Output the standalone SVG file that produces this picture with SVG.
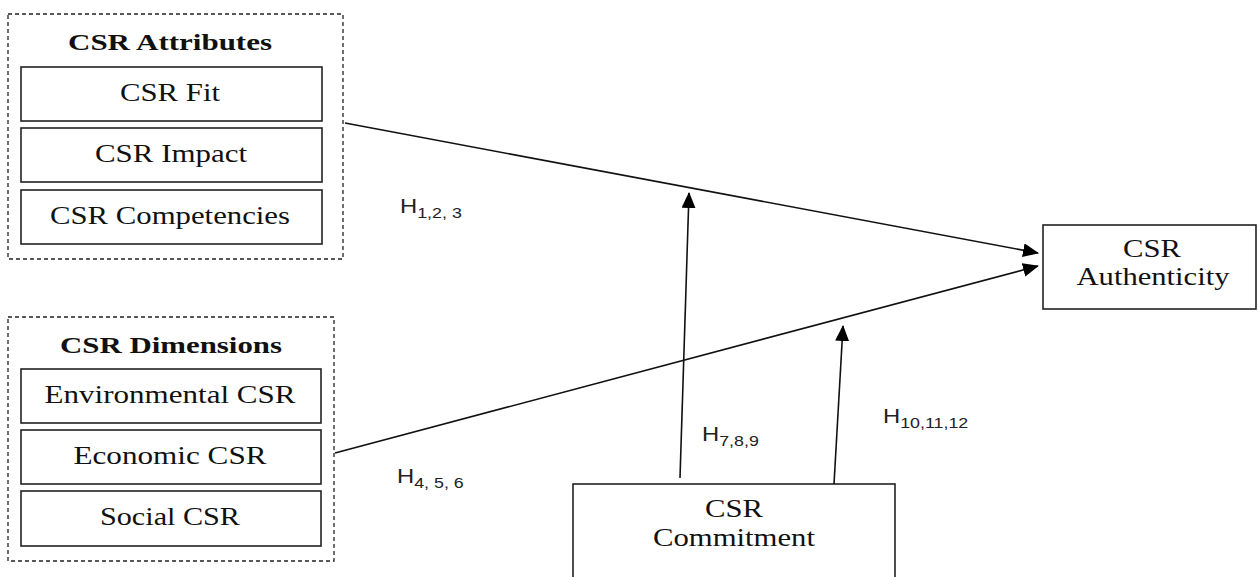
<svg xmlns="http://www.w3.org/2000/svg" width="1259" height="577" viewBox="0 0 1259 577">
<style>
.dash{fill:none;stroke:#222;stroke-width:1.3;stroke-dasharray:4,3}
.box{fill:#fff;stroke:#222;stroke-width:1.6}
.t{font-family:"Liberation Serif","Times New Roman",serif;font-size:25.5px;fill:#111;text-anchor:middle}
.tb{font-family:"Liberation Serif","Times New Roman",serif;font-size:23.5px;font-weight:bold;fill:#111;text-anchor:middle}
.h{font-family:"Liberation Sans",Arial,sans-serif;font-size:20px;fill:#222}
.s{font-size:15px}
.ln{stroke:#111;stroke-width:1.6;fill:none}
</style>
<defs>
<marker id="arrL" markerWidth="16" markerHeight="14" refX="15" refY="7" orient="auto" markerUnits="userSpaceOnUse" viewBox="0 0 16 14">
<path d="M0,0 L16,7 L0,14 z" fill="#000"/>
</marker>
</defs>
<g id="attributes">
<rect class="dash" x="8" y="14" width="335" height="245"/>
<text class="tb" x="170" y="50" textLength="204" lengthAdjust="spacingAndGlyphs">CSR Attributes</text>
<rect class="box" x="21" y="67" width="301" height="54"/>
<text class="t" x="170" y="101" textLength="100" lengthAdjust="spacingAndGlyphs">CSR Fit</text>
<rect class="box" x="21" y="128" width="301" height="54"/>
<text class="t" x="171" y="162" textLength="152" lengthAdjust="spacingAndGlyphs">CSR Impact</text>
<rect class="box" x="21" y="190" width="301" height="54"/>
<text class="t" x="170" y="224" textLength="240" lengthAdjust="spacingAndGlyphs">CSR Competencies</text>
</g>
<g id="dimensions">
<rect class="dash" x="8" y="317" width="326" height="244"/>
<text class="tb" x="171" y="353" textLength="222" lengthAdjust="spacingAndGlyphs">CSR Dimensions</text>
<rect class="box" x="21" y="369" width="300" height="54"/>
<text class="t" x="170" y="403" textLength="251" lengthAdjust="spacingAndGlyphs">Environmental CSR</text>
<rect class="box" x="21" y="430" width="300" height="54"/>
<text class="t" x="170" y="464" textLength="193" lengthAdjust="spacingAndGlyphs">Economic CSR</text>
<rect class="box" x="21" y="491" width="300" height="55"/>
<text class="t" x="170" y="525" textLength="140" lengthAdjust="spacingAndGlyphs">Social CSR</text>
</g>
<g id="authenticity">
<rect class="box" x="1043" y="225" width="213" height="84"/>
<text class="t" x="1152" y="257" textLength="58" lengthAdjust="spacingAndGlyphs">CSR</text>
<text class="t" x="1153" y="285" textLength="153" lengthAdjust="spacingAndGlyphs">Authenticity</text>
</g>
<g id="commitment">
<rect class="box" x="573" y="484" width="322" height="100"/>
<text class="t" x="734" y="517" textLength="58" lengthAdjust="spacingAndGlyphs">CSR</text>
<text class="t" x="734" y="546" textLength="162" lengthAdjust="spacingAndGlyphs">Commitment</text>
</g>
<g id="connectors">
<line class="ln" x1="345" y1="123" x2="1038" y2="253" marker-end="url(#arrL)"/>
<line class="ln" x1="335" y1="453" x2="1038" y2="266" marker-end="url(#arrL)"/>
<line class="ln" x1="680" y1="478" x2="689" y2="193" marker-end="url(#arrL)"/>
<line class="ln" x1="834" y1="484" x2="843" y2="326" marker-end="url(#arrL)"/>
</g>
<g id="labels">
<text class="h" transform="translate(400,213) scale(1.19,1)">H<tspan class="s" dy="5">1,2, 3</tspan></text>
<text class="h" transform="translate(397,483) scale(1.19,1)">H<tspan class="s" dy="5">4, 5, 6</tspan></text>
<text class="h" transform="translate(702,441) scale(1.19,1)">H<tspan class="s" dy="5">7,8,9</tspan></text>
<text class="h" transform="translate(883,423) scale(1.19,1)">H<tspan class="s" dy="5">10,11,12</tspan></text>
</g>
</svg>
